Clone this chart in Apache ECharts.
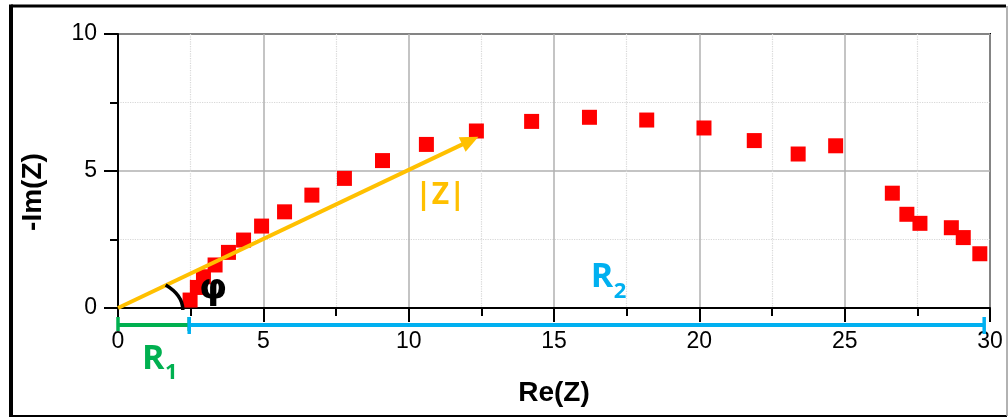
<!DOCTYPE html>
<html><head><meta charset="utf-8">
<script src="https://cdn.jsdelivr.net/npm/echarts@6/dist/echarts.min.js"></script>
<style>html,body{margin:0;padding:0;background:#fff}#c{width:1008px;height:417px}</style>
</head><body><div id="c"></div>
<script>
// Nyquist data: Re(Z) and -Im(Z)
const reZ = [2.48, 2.73, 2.94, 3.34, 3.80, 4.32, 4.94, 5.73, 6.67, 7.79, 9.10, 10.61, 12.33, 14.23, 16.22, 18.19, 20.16, 21.89, 23.40, 24.69, 26.64, 27.14, 27.59, 28.67, 29.08, 29.65];
const imZ = [0.29, 0.75, 1.14, 1.57, 2.03, 2.48, 2.99, 3.51, 4.12, 4.73, 5.38, 5.97, 6.46, 6.81, 6.96, 6.86, 6.57, 6.11, 5.62, 5.92, 4.19, 3.42, 3.09, 2.93, 2.57, 1.98];
const xRange = [0, 30];
const yRange = [0, 10];
const tickStep = 5;
// annotations (data coordinates)
const arrowEnd = [12.4, 6.25];
const r1Span = [0, 2.45];
const r2Span = [2.45, 29.8];
const spanLevel = -0.62;
const arcPts = [[1.64, 0.84], [2.23, 0.47], [2.23, -0.07]];
const phiPos = [3.27, 0.66];
const zLabelPos = [11.09, 4.09];
const r1LabelPos = [1.21, -1.86];
const r2LabelPos = [16.65, 1.11];

const points = reZ.map((x, i) => [x, imZ[i]]);
const ORANGE = '#FFC000', GREEN = '#00B050', BLUE = '#00B0F0';
const LBL = '"Open Sans","Noto Sans",sans-serif';

function renderAnno(params, api) {
  const p = (a) => api.coord(a);
  const o = p([0, 0]), t = p(arrowEnd);
  const ang = Math.atan2(t[1] - o[1], t[0] - o[0]);
  const L = 18, W = 8;
  const back = [t[0] - L * Math.cos(ang), t[1] - L * Math.sin(ang)];
  const n = [-Math.sin(ang), Math.cos(ang)];
  const ch = [];
  ch.push({type: 'line', shape: {x1: o[0], y1: o[1], x2: back[0] + 2 * Math.cos(ang), y2: back[1] + 2 * Math.sin(ang)}, style: {stroke: ORANGE, lineWidth: 4}});
  ch.push({type: 'polygon', shape: {points: [t, [back[0] + n[0] * W, back[1] + n[1] * W], [back[0] - n[0] * W, back[1] - n[1] * W]]}, style: {fill: ORANGE}});
  const a0 = p(arcPts[0]), a1 = p(arcPts[1]), a2 = p(arcPts[2]);
  ch.push({type: 'bezierCurve', shape: {x1: a0[0], y1: a0[1], cpx1: a1[0], cpy1: a1[1], x2: a2[0], y2: a2[1]}, style: {stroke: '#000', lineWidth: 3.5, fill: null}});
  function span(s, col, capUp, capDn) {
    const a = p([s[0], spanLevel]), b = p([s[1], spanLevel]);
    ch.push({type: 'line', shape: {x1: a[0], y1: a[1], x2: b[0], y2: b[1]}, style: {stroke: col, lineWidth: 4}});
    ch.push({type: 'line', shape: {x1: a[0], y1: a[1] - capUp, x2: a[0], y2: a[1] + capDn}, style: {stroke: col, lineWidth: 3.5}});
    ch.push({type: 'line', shape: {x1: b[0], y1: b[1] - capUp, x2: b[0], y2: b[1] + capDn}, style: {stroke: col, lineWidth: 3.5}});
  }
  span(r1Span, GREEN, 8, 6);
  span(r2Span, BLUE, 8, 9);
  const ph = p(phiPos);
  ch.push({type: 'text', x: ph[0], y: ph[1], style: {text: 'φ', font: 'bold 36px "DejaVu Sans",sans-serif', fill: '#000', align: 'center', verticalAlign: 'middle'}});
  const zl = p(zLabelPos);
  ch.push({type: 'text', x: zl[0], y: zl[1], style: {text: '|Z|', font: 'bold 30px ' + LBL, fill: ORANGE, align: 'center', verticalAlign: 'middle'}});
  function rlab(pos, sub, col) {
    const c = p(pos);
    ch.push({type: 'text', x: c[0], y: c[1], style: {text: 'R', font: 'bold 34px ' + LBL, fill: col, align: 'center', verticalAlign: 'middle'}});
    ch.push({type: 'text', x: c[0] + 18, y: c[1] + 14, style: {text: sub, font: 'bold 22px ' + LBL, fill: col, align: 'center', verticalAlign: 'middle'}});
  }
  rlab(r1LabelPos, '1', GREEN);
  rlab(r2LabelPos, '2', BLUE);
  return {type: 'group', children: ch};
}

const chart = echarts.init(document.getElementById('c'), null, {renderer: 'canvas'});
const axisCommon = {
  type: 'value',
  interval: tickStep,
  axisLine: {show: true, onZero: false, lineStyle: {color: '#000', width: 2}},
  axisTick: {show: true, inside: false, length: 14, lineStyle: {color: '#000', width: 2}},
  minorTick: {show: true, splitNumber: 2, length: 8, lineStyle: {color: '#000', width: 2}},
  splitLine: {show: true, lineStyle: {color: '#b0b0b0', width: 1.5}},
  minorSplitLine: {show: true, lineStyle: {color: '#d8d8d8', width: 1.2, type: 'dotted'}},
  axisLabel: {color: '#000', fontFamily: '"Liberation Sans",Arial,sans-serif', fontSize: 23}
};
chart.setOption({
  animation: false,
  backgroundColor: '#fff',
  grid: {left: 118, right: 18, top: 34, bottom: 109, show: true, borderColor: '#000', borderWidth: 2, backgroundColor: 'transparent'},
  xAxis: Object.assign({}, axisCommon, {min: xRange[0], max: xRange[1], axisLabel: Object.assign({}, axisCommon.axisLabel, {margin: 22})}),
  yAxis: Object.assign({}, axisCommon, {min: yRange[0], max: yRange[1], axisLabel: Object.assign({}, axisCommon.axisLabel, {margin: 21})}),
  graphic: [
    {type: 'text', x: 554, y: 393, style: {text: 'Re(Z)', font: 'bold 28px "Liberation Sans",Arial,sans-serif', fill: '#000', align: 'center', verticalAlign: 'middle'}},
    {type: 'text', x: 33, y: 192, rotation: Math.PI / 2, style: {text: '-Im(Z)', font: 'bold 28px "Liberation Sans",Arial,sans-serif', fill: '#000', align: 'center', verticalAlign: 'middle'}},
    {type: 'line', shape: {x1: 11, y1: 6, x2: 1006, y2: 6}, style: {stroke: '#000', lineWidth: 3}},
    {type: 'line', shape: {x1: 11, y1: 4.5, x2: 11, y2: 416}, style: {stroke: '#000', lineWidth: 4}},
    {type: 'line', shape: {x1: 9, y1: 416, x2: 1007, y2: 416}, style: {stroke: '#000', lineWidth: 2}},
    {type: 'line', shape: {x1: 1007, y1: 6, x2: 1007, y2: 416}, style: {stroke: '#999', lineWidth: 1.5}}
  ],
  series: [
    {type: 'scatter', data: points, symbol: 'rect', symbolSize: 15, itemStyle: {color: '#FF0000', opacity: 1}, z: 3},
    {type: 'custom', data: [[0, 0]], renderItem: renderAnno, clip: false, silent: true, z: 5}
  ]
});
</script>
</body></html>
